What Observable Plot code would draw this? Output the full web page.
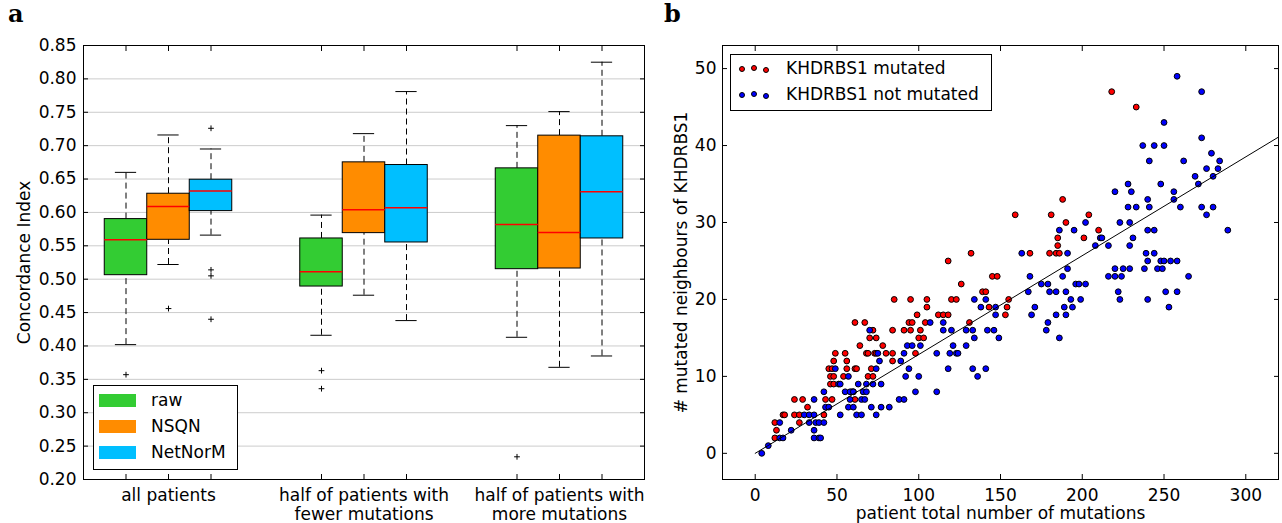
<!DOCTYPE html>
<html><head><meta charset="utf-8">
<script src="https://cdn.jsdelivr.net/npm/d3@7"></script>
<script src="https://cdn.jsdelivr.net/npm/@observablehq/plot@0.6"></script>
<style>
body{margin:0;background:#fff;font-family:"DejaVu Sans",sans-serif;}
#wrap{position:relative;width:1282px;height:523px;overflow:hidden;background:#fff;}
.panel{position:absolute;top:0;}
.box{position:absolute;border:1px solid #000;background:#fff;box-sizing:border-box;}
.lt{position:absolute;font-size:17px;line-height:20px;white-space:nowrap;color:#000;}
.patch{position:absolute;}
.pt{position:absolute;width:6px;height:6px;border-radius:50%;border:1px solid #000;box-sizing:border-box;}
.title{position:absolute;font-family:"DejaVu Serif",serif;font-weight:bold;font-size:24px;line-height:28px;}
</style></head><body><div id="wrap"></div>
<script>
// ---------- Panel a data ----------
const groups = ["all patients", "half of patients with\nfewer mutations", "half of patients with\nmore mutations"];
const methods = ["raw", "NSQN", "NetNorM"];
const methodColors = ["#33cc33", "#ff8c00", "#00bfff"];
// order: group-major, method-minor (raw, NSQN, NetNorM)
const lowerWhisker = [0.402, 0.522, 0.566,  0.416, 0.476, 0.438,  0.413, 0.368, 0.385];
const q1           = [0.506, 0.559, 0.602,  0.489, 0.569, 0.555,  0.515, 0.516, 0.561];
const median       = [0.559, 0.609, 0.632,  0.511, 0.604, 0.607,  0.582, 0.570, 0.631];
const q3           = [0.590, 0.628, 0.649,  0.561, 0.675, 0.671,  0.666, 0.715, 0.714];
const upperWhisker = [0.660, 0.716, 0.695,  0.596, 0.718, 0.781,  0.730, 0.751, 0.825];
const outliers = [[0.357], [0.456], [0.726, 0.514, 0.505, 0.440], [0.363, 0.336], [], [], [0.234], [], []];
const yTicksA = [0.20,0.25,0.30,0.35,0.40,0.45,0.50,0.55,0.60,0.65,0.70,0.75,0.80,0.85];

// ---------- Panel b data ----------
const mutatedPoints = [
 [12,2],[13,3],[12,4],[27,4],[17,5],[18,5],[24,5],[27,5],[42,5],[32,6],
 [24,7],[29,7],[43,7],[47,7],[61,7],[59,8],[60,8],[46,9],[48,9],
 [46,10],[48,10],[54,10],[69,10],[72,10],[45,11],[47,11],[56,11],[61,11],[62,11],[71,11],
 [48,12],[56,12],[84,12],[49,13],[55,13],[68,13],[69,13],[73,13],[74,13],[80,13],[84,13],[98,13],
 [64,14],[78,14],[70,15],[74,15],[100,15],[103,15],[72,16],[84,16],[91,16],[95,16],[101,16],
 [61,17],[67,17],[94,17],[96,17],[104,17],[131,17],[99,18],[112,18],[115,18],[118,18],[153,18],
 [105,19],[143,19],[154,19],[85,20],[95,20],[105,20],[120,20],[123,20],[155,20],
 [139,21],[141,21],[126,22],[145,23],[148,23],[118,25],[132,26],[168,26],[180,26],[184,26],[186,26],
 [185,27],[185,28],[201,28],[210,29],[190,30],[159,31],[181,31],[204,31],[188,33],[233,45],[218,47]
];
const notMutatedPoints = [
 [4,0],[8,1],[15,2],[17,2],[36,2],[39,2],[40,2],[22,3],[36,3],
 [15,4],[33,4],[37,4],[39,4],[42,4],[30,5],[33,5],[36,5],[52,5],[62,5],[65,5],[74,5],
 [43,6],[45,6],[57,6],[60,6],[71,6],[77,6],[82,6],[36,7],[58,7],[65,7],[67,7],[88,7],[91,7],
 [42,8],[55,8],[58,8],[60,8],[66,8],[68,8],[98,8],[111,8],[51,9],[52,9],[63,9],[68,9],[72,9],[77,9],
 [57,10],[92,10],[100,10],[136,10],[49,11],[74,11],[94,11],[118,11],[133,11],[141,11],[76,12],[89,12],
 [75,13],[91,13],[111,13],[119,13],[123,13],[124,13],[93,14],[96,14],[101,14],[121,14],[129,14],
 [134,15],[149,15],[186,15],[70,16],[115,16],[120,16],[129,16],[133,16],[142,16],[146,16],[178,16],
 [107,17],[115,17],[179,17],[147,18],[169,18],[184,18],[190,18],
 [138,19],[147,19],[171,19],[189,19],[194,19],[253,19],[134,20],[141,20],[193,20],[199,20],[223,20],[240,20],
 [167,21],[180,21],[184,21],[190,21],[222,21],[251,21],[258,21],[175,22],[179,22],[196,22],[198,22],[202,22],
 [168,23],[188,23],[216,23],[220,23],[224,23],[265,23],[191,24],[220,24],[225,24],[229,24],[238,24],[246,24],[249,24],
 [240,25],[248,25],[250,25],[254,25],[258,25],[163,26],[191,26],[239,26],[244,26],[208,27],[216,27],[229,27],
 [211,28],[212,28],[231,28],[186,29],[195,29],[240,29],[244,29],[289,29],[202,30],[223,30],[229,30],[276,31],
 [228,32],[233,32],[241,32],[260,32],[273,32],[280,32],[240,33],[256,33],[220,34],[230,34],[256,34],
 [228,35],[248,35],[271,35],[269,36],[280,36],[276,37],[283,37],[241,38],[262,38],[284,38],[279,39],
 [237,40],[244,40],[250,40],[273,41],[250,43],[273,47],[258,49]
];
const fitX = [0, 320];
const fitY = [0, 41.1];
const xTicksB = [0, 50, 100, 150, 200, 250, 300];
const yTicksB = [0, 10, 20, 30, 40, 50];

// ---------- build panel a ----------
const boxes = [];
groups.forEach((g, gi) => methods.forEach((m, mi) => {
  const i = gi * 3 + mi;
  boxes.push({gi, mi, pos: 1 + mi + gi * 4.6, lw: lowerWhisker[i], q1: q1[i], med: median[i], q3: q3[i], uw: upperWhisker[i]});
}));
const outlierRows = boxes.flatMap((b, i) => outliers[i].map(v => ({pos: b.pos, v})));
const groupRows = groups.map((label, gi) => ({label, center: 2 + gi * 4.6}));
const boxPositions = boxes.map(b => b.pos);

const fontStyle = {fontFamily: "DejaVu Sans", fontSize: "17px", color: "black", background: "white", overflow: "visible"};

const plotA = Plot.plot({
  width: 660, height: 523,
  marginLeft: 83, marginRight: 16, marginTop: 45, marginBottom: 44,
  x: {domain: [0, 13.2], axis: null},
  y: {domain: [0.2, 0.85], axis: null},
  style: fontStyle,
  marks: [
    Plot.gridY(yTicksA, {stroke: "#cccccc", strokeOpacity: 1, strokeWidth: 1}),
    Plot.ruleX(boxes, {x: "pos", y1: "q3", y2: "uw", stroke: "black", strokeDasharray: "6,4"}),
    Plot.ruleX(boxes, {x: "pos", y1: "lw", y2: "q1", stroke: "black", strokeDasharray: "6,4"}),
    Plot.ruleY(boxes, {y: "uw", x1: d => d.pos - 0.25, x2: d => d.pos + 0.25, stroke: "black"}),
    Plot.ruleY(boxes, {y: "lw", x1: d => d.pos - 0.25, x2: d => d.pos + 0.25, stroke: "black"}),
    Plot.rect(boxes, {x1: d => d.pos - 0.5, x2: d => d.pos + 0.5, y1: "q1", y2: "q3", fill: d => methodColors[d.mi], stroke: "black", strokeWidth: 1}),
    Plot.ruleY(boxes, {y: "med", x1: d => d.pos - 0.5, x2: d => d.pos + 0.5, stroke: "#ff0000", strokeWidth: 1.5}),
    Plot.dot(outlierRows, {x: "pos", y: "v", symbol: "plus", r: 2, stroke: "black", strokeWidth: 1}),
    Plot.frame({stroke: "black"}),
    Plot.axisY(yTicksA, {anchor: "left", tickSize: 5, dx: 5, tickPadding: 7, tickFormat: d3.format(".2f"), label: null}),
    Plot.axisY(yTicksA, {anchor: "right", tickSize: 5, dx: -5, tickFormat: () => "", label: null}),
    Plot.axisX(boxPositions, {anchor: "bottom", tickSize: 5, dy: -5, tickFormat: () => "", label: null}),
    Plot.axisX(boxPositions, {anchor: "top", tickSize: 5, dy: 5, tickFormat: () => "", label: null}),
    Plot.text(groupRows, {x: "center", text: "label", frameAnchor: "bottom", lineAnchor: "top", dy: 8, lineHeight: 1.12, fill: "black"}),
    Plot.text(["Concordance Index"], {text: d => d, frameAnchor: "left", textAnchor: "middle", rotate: -90, dx: -59, fill: "black"})
  ]
});

const plotB = Plot.plot({
  width: 622, height: 523,
  marginLeft: 62, marginRight: 4, marginTop: 45, marginBottom: 44,
  x: {domain: [-20, 320], axis: null},
  y: {domain: [-3.4, 53], axis: null},
  style: fontStyle,
  marks: [
    Plot.dot(mutatedPoints, {x: d => d[0], y: d => d[1], r: 2.9, fill: "#ff0000", stroke: "black", strokeWidth: 1}),
    Plot.dot(notMutatedPoints, {x: d => d[0], y: d => d[1], r: 2.9, fill: "#0000ff", stroke: "black", strokeWidth: 1}),
    Plot.line(fitX.map((x, i) => ({x, y: fitY[i]})), {x: "x", y: "y", stroke: "black", strokeWidth: 1}),
    Plot.frame({stroke: "black"}),
    Plot.axisX(xTicksB, {anchor: "bottom", tickSize: 5, dy: -5, tickPadding: 9, label: null}),
    Plot.axisX(xTicksB, {anchor: "top", tickSize: 5, dy: 5, tickFormat: () => "", label: null}),
    Plot.axisY(yTicksB, {anchor: "left", tickSize: 5, dx: 5, tickPadding: 6, label: null}),
    Plot.axisY(yTicksB, {anchor: "right", tickSize: 5, dx: -5, tickFormat: () => "", label: null}),
    Plot.text(["patient total number of mutations"], {text: d => d, frameAnchor: "bottom", textAnchor: "middle", lineAnchor: "top", dy: 27, fill: "black"}),
    Plot.text(["# mutated neighbours of KHDRBS1"], {text: d => d, frameAnchor: "left", textAnchor: "middle", rotate: -90, dx: -41, fill: "black"})
  ]
});

const wrap = document.getElementById("wrap");
plotA.classList.add("panel"); plotA.style.left = "0px";
plotB.classList.add("panel"); plotB.style.left = "660px";
wrap.appendChild(plotA);
wrap.appendChild(plotB);

function el(cls, css, text) {
  const d = document.createElement("div");
  d.className = cls;
  Object.assign(d.style, css);
  if (text != null) d.textContent = text;
  wrap.appendChild(d);
  return d;
}
// panel titles
el("title", {left: "8px", top: "0px"}, "a");
el("title", {left: "664px", top: "0px"}, "b");

// legend a
el("box", {left: "93px", top: "385px", width: "145px", height: "85px"});
methods.forEach((m, i) => {
  el("patch", {left: "99px", top: (393.5 + i * 26) + "px", width: "37px", height: "13.5px", background: methodColors[i]});
  el("lt", {left: "151px", top: (400 + i * 26 - 9.7) + "px"}, m);
});
// legend b
const legendB = [{label: "KHDRBS1 mutated", color: "#ff0000"}, {label: "KHDRBS1 not mutated", color: "#0000ff"}];
el("box", {left: "730px", top: "54px", width: "262px", height: "57px"});
legendB.forEach((e, i) => {
  const offs = [[742, 69.4], [754.4, 67.7], [766.3, 70.4]];
  offs.forEach(([cx, cy]) => el("pt", {left: (cx - 3) + "px", top: (cy + i * 26 - 3) + "px", background: e.color}));
  el("lt", {left: "786px", top: (68 + i * 26 - 9.7) + "px"}, e.label);
});
</script>
</body></html>
